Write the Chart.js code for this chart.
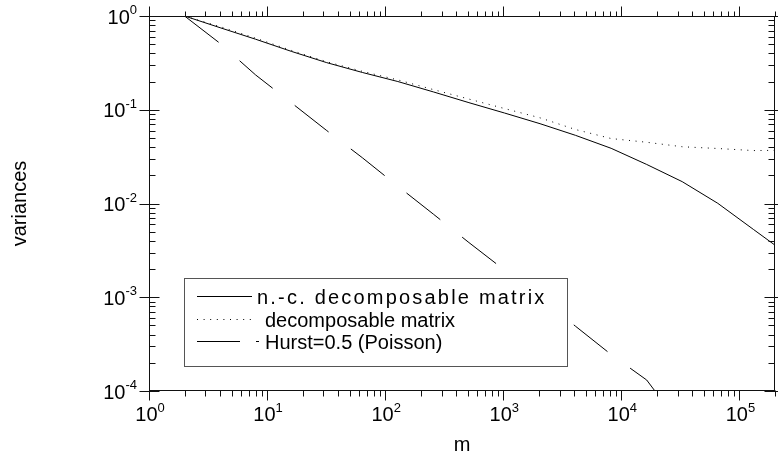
<!DOCTYPE html>
<html>
<head>
<meta charset="utf-8">
<script src="https://cdn.jsdelivr.net/npm/chart.js@4"></script>
<style>
  html, body { margin: 0; padding: 0; background: #fff; }
</style>
</head>
<body>
<canvas id="chart" width="778" height="459"></canvas>
<script>
// m = 2^1 .. 2^18
const mValues = [2, 4, 8, 16, 32, 64, 128, 256, 512, 1024, 2048, 4096, 8192,
  16384, 32768, 65536, 131072, 262144]
const ncDecomposable = [1.0, 0.75, 0.565, 0.42, 0.318, 0.25, 0.2, 0.155, 0.119,
  0.0923, 0.071, 0.0533, 0.0388, 0.0261, 0.0171, 0.01005, 0.0053, 0.0028]
const decomposable = [1.0, 0.77, 0.58, 0.43, 0.325, 0.257, 0.208, 0.164, 0.13,
  0.103, 0.082, 0.0615, 0.0493, 0.045, 0.0403, 0.0386, 0.0367, 0.037]
const poisson = [1.0, 0.51, 0.235, 0.119, 0.06, 0.0308, 0.0153, 0.0077, 0.00383,
  0.00195, 0.00098, 0.00049, 0.000245, 0.000131, 0.000041]
const seriesNames = ["n.-c. decomposable matrix", "decomposable matrix", "Hurst=0.5 (Poisson)"]
const xTickExps = [0, 1, 2, 3, 4, 5]
const yTickExps = [0, -1, -2, -3, -4]

const FONT = '"Liberation Sans", Arial, sans-serif'
const toPoints = vals => vals.map((v, i) => ({ x: mValues[i], y: v }))

function powLabel(ctx, exp, x, base, align) {
  ctx.font = `20px ${FONT}`
  const wb = ctx.measureText("10").width
  ctx.font = `13px ${FONT}`
  const we = ctx.measureText(String(exp)).width
  const x0 = align === "right" ? x - wb - we : x - (wb + we) / 2
  ctx.textAlign = "left"
  ctx.textBaseline = "alphabetic"
  ctx.font = `20px ${FONT}`
  ctx.fillText("10", x0, base)
  ctx.font = `13px ${FONT}`
  ctx.fillText(String(exp), x0 + wb, base - 9.5)
}

function line(ctx, x1, y1, x2, y2) {
  ctx.beginPath()
  ctx.moveTo(x1, y1)
  ctx.lineTo(x2, y2)
  ctx.stroke()
}

const axesPlugin = {
  id: "axes",
  afterDraw(chart) {
    const { ctx, chartArea: a, scales: { x, y } } = chart
    const L = Math.round(a.left) + 0.5, R = Math.round(a.right) - 0.5
    const T = Math.round(a.top) + 0.5, B = Math.round(a.bottom) - 0.5
    ctx.save()
    ctx.strokeStyle = "#111"
    ctx.lineWidth = 1
    ctx.setLineDash([])
    ctx.strokeRect(L, T, R - L, B - T)

    // x ticks (top and bottom, outward)
    xTickExps.forEach(e => {
      const px = Math.round(x.getPixelForValue(10 ** e)) + 0.5
      line(ctx, px, B, px, B + 10)
      line(ctx, px, T, px, T - 10)
      for (let k = 2; k <= 9; k++) {
        const v = k * 10 ** e
        if (v > x.max) break
        const mx = Math.round(x.getPixelForValue(v)) + 0.5
        line(ctx, mx, B, mx, B + 6)
        line(ctx, mx, T, mx, T - 5)
      }
    })
    // y ticks
    yTickExps.forEach(e => {
      const py = Math.round(y.getPixelForValue(10 ** e)) + 0.5
      line(ctx, L - 10, py, L + 10, py)
      line(ctx, R - 10, py, R + 10, py)
      if (e < 0) {
        for (let k = 2; k <= 9; k++) {
          const my = Math.round(y.getPixelForValue(k * 10 ** e)) + 0.5
          line(ctx, L, my, L + 6, my)
          line(ctx, R - 6, my, R, my)
        }
      }
    })

    ctx.fillStyle = "#000"
    xTickExps.forEach(e => powLabel(ctx, e, x.getPixelForValue(10 ** e) + 1, 421, "center"))
    yTickExps.forEach(e => powLabel(ctx, e, 137, y.getPixelForValue(10 ** e) + 7.5, "right"))

    // axis titles
    ctx.font = `20px ${FONT}`
    ctx.textAlign = "center"
    ctx.textBaseline = "alphabetic"
    ctx.fillText("m", (a.left + a.right) / 2, 451)
    ctx.save()
    ctx.translate(25.5, (a.top + a.bottom) / 2)
    ctx.rotate(-Math.PI / 2)
    ctx.fillText("variances", 0, 0)
    ctx.restore()

    // legend
    ctx.fillStyle = "#fff"
    ctx.fillRect(184.5, 278.5, 383, 88)
    ctx.strokeStyle = "#555"
    ctx.strokeRect(184.5, 278.5, 383, 88)
    const rows = [296.5, 319.5, 341.5]
    const textX = [257, 265, 265]
    const dashes = [[], [1, 5.6], [43, 16]]
    const ends = [252, 251, 259]
    chart.data.datasets.forEach((ds, i) => {
      ctx.strokeStyle = ds.borderColor
      ctx.lineWidth = 1
      ctx.setLineDash(dashes[i])
      line(ctx, 197, rows[i], ends[i], rows[i])
      ctx.setLineDash([])
      ctx.fillStyle = "#000"
      ctx.font = `20px ${FONT}`
      ctx.textAlign = "left"
      ctx.letterSpacing = i === 0 ? "2.2px" : "0px"
      ctx.fillText(ds.label, textX[i], rows[i] + 7)
    })
    ctx.letterSpacing = "0px"
    ctx.restore()
  }
}

new Chart(document.getElementById("chart"), {
  type: "line",
  data: {
    datasets: [
      { label: seriesNames[0], data: toPoints(ncDecomposable), borderColor: "#000", borderWidth: 1 },
      { label: seriesNames[1], data: toPoints(decomposable), borderColor: "#000", borderWidth: 1, borderDash: [1, 5.6] },
      { label: seriesNames[2], data: toPoints(poisson), borderColor: "#000", borderWidth: 1, borderDash: [43, 28] }
    ]
  },
  options: {
    responsive: false,
    animation: false,
    devicePixelRatio: 1,
    layout: { padding: { left: 149, top: 16, right: 3, bottom: 68 } },
    elements: { point: { radius: 0 }, line: { tension: 0, fill: false } },
    plugins: { legend: { display: false }, tooltip: { enabled: false } },
    scales: {
      x: { type: "logarithmic", min: 1, max: 2e5, bounds: "data", display: false },
      y: { type: "logarithmic", min: 1e-4, max: 1, bounds: "data", display: false }
    }
  },
  plugins: [axesPlugin]
})
</script>
</body>
</html>
